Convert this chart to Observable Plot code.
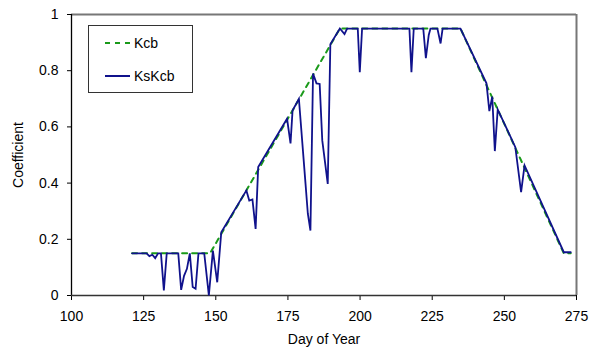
<!DOCTYPE html>
<html>
<head>
<meta charset="utf-8">
<script src="https://cdn.jsdelivr.net/npm/d3@7"></script>
<script src="https://cdn.jsdelivr.net/npm/@observablehq/plot@0.6"></script>
<style>
  body { margin: 0; background: white; }
  #wrap { position: relative; width: 590px; height: 347px; font-family: "Liberation Sans", Arial, sans-serif; }
  #legend { position: absolute; left: 88px; top: 25px; width: 103px; height: 66px; border: 1px solid #333; background: white; font-size: 14px; }
  .item { position: absolute; left: 16px; display: flex; align-items: center; }
  .item svg { margin-right: 3px; }
</style>
</head>
<body>
<div id="wrap"></div>
<script>
// Kcb (basal crop coefficient) breakpoints
const kcbDay = [121, 148, 193, 234.8, 270.6, 273];
const kcbVal = [0.15, 0.15, 0.95, 0.95, 0.15, 0.15];

// KsKcb (stress-adjusted) series
const ksDay = [121, 126, 127, 128, 129, 130, 131, 132, 133, 137, 138, 139, 140, 141, 142, 143, 144, 146, 147.6, 149, 150.5, 151.9,
  160.6, 161.6, 162.7, 163.8, 164.7, 174.7, 175.9, 176.6, 178.8, 181.1, 181.9, 182.8, 183.7, 184.9, 186, 186.9, 188.8, 189.7,
  193, 194.6, 195.5, 199.2, 199.9, 200.7, 217.1, 217.8, 218.6, 221.9, 222.8, 223.8, 224.4, 226.8, 227.9, 228.6, 234.8,
  243.8, 244.8, 245.8, 246.7, 247.7, 253.8, 255.8, 257, 270.6, 273];
const ksVal = [0.15, 0.15, 0.14, 0.145, 0.133, 0.15, 0.15, 0.018, 0.15, 0.15, 0.02, 0.07, 0.095, 0.15, 0.03, 0.024, 0.15, 0.15, 0.0, 0.16, 0.047, 0.225,
  0.374, 0.338, 0.342, 0.237, 0.457, 0.629, 0.541, 0.658, 0.70, 0.397, 0.291, 0.231, 0.79, 0.755, 0.753, 0.552, 0.397, 0.894,
  0.95, 0.93, 0.95, 0.95, 0.795, 0.95, 0.95, 0.795, 0.95, 0.95, 0.845, 0.927, 0.95, 0.95, 0.897, 0.95, 0.95,
  0.755, 0.656, 0.708, 0.514, 0.662, 0.528, 0.368, 0.463, 0.154, 0.154];

const xTicks = [100, 125, 150, 175, 200, 225, 250, 275];
const yTicks = [0, 0.2, 0.4, 0.6, 0.8, 1];
const seriesNames = ["Kcb", "KsKcb"];
const colors = ["#1a9a1a", "#10128c"];

const kcb = kcbDay.map((d, i) => ({day: d, v: kcbVal[i]}));
const ks = ksDay.map((d, i) => ({day: d, v: ksVal[i]}));

const chart = Plot.plot({
  width: 590,
  height: 347,
  marginLeft: 71,
  marginRight: 14,
  marginTop: 14,
  marginBottom: 52,
  style: {fontFamily: "'Liberation Sans', Arial, sans-serif", fontSize: "14px", background: "white", color: "black", overflow: "visible"},
  x: {domain: [100, 275], ticks: xTicks, tickSize: 5, tickPadding: 11, tickFormat: d => String(d), label: "Day of Year", labelArrow: false, labelAnchor: "center", labelOffset: 48},
  y: {domain: [0, 1], ticks: yTicks, tickSize: 4, tickPadding: 9, tickFormat: d => String(d), label: "Coefficient", labelArrow: false, labelAnchor: "center", labelOffset: 58},
  marks: [
    Plot.ruleY([1], {stroke: "#777", strokeWidth: 2}),
    Plot.ruleX([275], {stroke: "#777", strokeWidth: 2}),
    Plot.ruleX([100], {stroke: "black", strokeWidth: 1.3}),
    Plot.ruleY([0], {stroke: "#333", strokeWidth: 1.3}),
    Plot.line(kcb, {x: "day", y: "v", stroke: colors[0], strokeWidth: 2, strokeDasharray: "5,5"}),
    Plot.line(ks, {x: "day", y: "v", stroke: colors[1], strokeWidth: 1.8, strokeLinejoin: "miter", strokeMiterlimit: 4})
  ]
});

const wrap = document.getElementById("wrap");
wrap.appendChild(chart);

const legend = document.createElement("div");
legend.id = "legend";
seriesNames.forEach((name, i) => {
  const it = document.createElement("div");
  it.className = "item";
  it.style.top = (i === 0 ? 9 : 42) + "px";
  const dash = i === 0 ? 'stroke-dasharray="5,5"' : "";
  it.innerHTML = `<svg width="26" height="16"><line x1="0" y1="8" x2="25" y2="8" stroke="${colors[i]}" stroke-width="2" ${dash}/></svg><span>${name}</span>`;
  legend.appendChild(it);
});
wrap.appendChild(legend);
</script>
</body>
</html>
